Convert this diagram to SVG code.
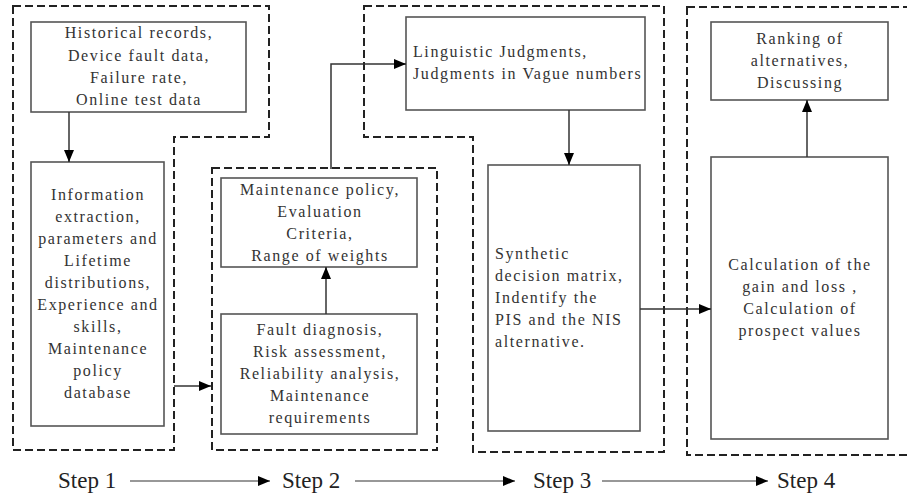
<svg xmlns="http://www.w3.org/2000/svg" width="907" height="495" viewBox="0 0 907 495">
<style>
.dash{fill:none;stroke:#222;stroke-width:2;stroke-dasharray:8,4}
.box{fill:#fff;stroke:#555;stroke-width:1.6}
.t{font-family:"Liberation Serif",serif;font-size:16px;letter-spacing:1.6px;fill:#333}
.c{text-anchor:middle}
.line{fill:none;stroke:#333;stroke-width:1.5}
.sl{fill:none;stroke:#333;stroke-width:1.2}
.step{font-family:"Liberation Serif",serif;font-size:23px;fill:#222}
</style>
<defs>
<marker id="ah" markerUnits="userSpaceOnUse" markerWidth="12" markerHeight="10" refX="12" refY="5" orient="auto">
<path d="M0,0 L12,5 L0,10 Z" fill="#000"/>
</marker>
</defs>
<rect width="907" height="495" fill="#fff"/>
<g id="regions">
<path class="dash" d="M13,6 H269 V137 H174 V450 H13 Z"/>
<rect class="dash" x="212" y="168" width="225" height="282"/>
<path class="dash" d="M364,6 H664 V452 H473 V137 H364 Z"/>
<path class="dash" d="M687,7 H915 V455 H687 Z"/>
</g>
<g id="n_hist">
<rect class="box" x="31" y="22" width="215" height="90"/>
<text class="t c" x="139" y="38">Historical records,</text>
<text class="t c" x="139" y="60.5">Device fault data,</text>
<text class="t c" x="139" y="83">Failure rate,</text>
<text class="t c" x="139" y="105">Online test data</text>
</g>
<g id="n_info">
<rect class="box" x="31" y="162" width="133" height="264"/>
<text class="t c" x="98" y="200">Information</text>
<text class="t c" x="98" y="222">extraction,</text>
<text class="t c" x="98" y="244">parameters and</text>
<text class="t c" x="98" y="266">Lifetime</text>
<text class="t c" x="98" y="288">distributions,</text>
<text class="t c" x="98" y="310">Experience and</text>
<text class="t c" x="98" y="332">skills,</text>
<text class="t c" x="98" y="354">Maintenance</text>
<text class="t c" x="98" y="376">policy</text>
<text class="t c" x="98" y="398">database</text>
</g>
<g id="n_maint">
<rect class="box" x="221" y="178" width="196" height="89"/>
<text class="t c" x="320" y="195">Maintenance policy,</text>
<text class="t c" x="320" y="217">Evaluation</text>
<text class="t c" x="320" y="239">Criteria,</text>
<text class="t c" x="320" y="261">Range of weights</text>
</g>
<g id="n_fault">
<rect class="box" x="221" y="314" width="196" height="120"/>
<text class="t c" x="320" y="335">Fault diagnosis,</text>
<text class="t c" x="320" y="357">Risk assessment,</text>
<text class="t c" x="320" y="379">Reliability analysis,</text>
<text class="t c" x="320" y="401">Maintenance</text>
<text class="t c" x="320" y="423">requirements</text>
</g>
<g id="n_ling">
<rect class="box" x="406" y="17" width="239" height="93"/>
<text class="t" x="413" y="57">Linguistic Judgments,</text>
<text class="t" x="413" y="79">Judgments in Vague numbers</text>
</g>
<g id="n_synth">
<rect class="box" x="488" y="165" width="152" height="266"/>
<text class="t" x="495" y="259">Synthetic</text>
<text class="t" x="495" y="281">decision matrix,</text>
<text class="t" x="495" y="303">Indentify the</text>
<text class="t" x="495" y="325">PIS and the NIS</text>
<text class="t" x="495" y="347">alternative.</text>
</g>
<g id="n_rank">
<rect class="box" x="711" y="22" width="177" height="78"/>
<text class="t c" x="800" y="44">Ranking of</text>
<text class="t c" x="800" y="66">alternatives,</text>
<text class="t c" x="800" y="88">Discussing</text>
</g>
<g id="n_calc">
<rect class="box" x="711" y="157" width="177" height="282"/>
<text class="t c" x="800" y="270">Calculation of the</text>
<text class="t c" x="800" y="292">gain and loss ,</text>
<text class="t c" x="800" y="314">Calculation of</text>
<text class="t c" x="800" y="336">prospect values</text>
</g>
<g id="connectors">
<path class="line" d="M69,112 V162" marker-end="url(#ah)"/>
<path class="line" d="M174,386 H211" marker-end="url(#ah)"/>
<path class="line" d="M326,314 V267" marker-end="url(#ah)"/>
<path class="line" d="M331,169 V64 H406" marker-end="url(#ah)"/>
<path class="line" d="M569,110 V165" marker-end="url(#ah)"/>
<path class="line" d="M640,309 H711" marker-end="url(#ah)"/>
<path class="line" d="M807,157 V100" marker-end="url(#ah)"/>
<path class="sl" d="M130,481 H270" marker-end="url(#ah)"/>
<path class="sl" d="M355,481 H515" marker-end="url(#ah)"/>
<path class="sl" d="M602,481 H768" marker-end="url(#ah)"/>
</g>
<g id="steps">
<text class="step" x="58" y="488">Step 1</text>
<text class="step" x="282" y="488">Step 2</text>
<text class="step" x="533" y="488">Step 3</text>
<text class="step" x="777" y="488">Step 4</text>
</g>
</svg>
